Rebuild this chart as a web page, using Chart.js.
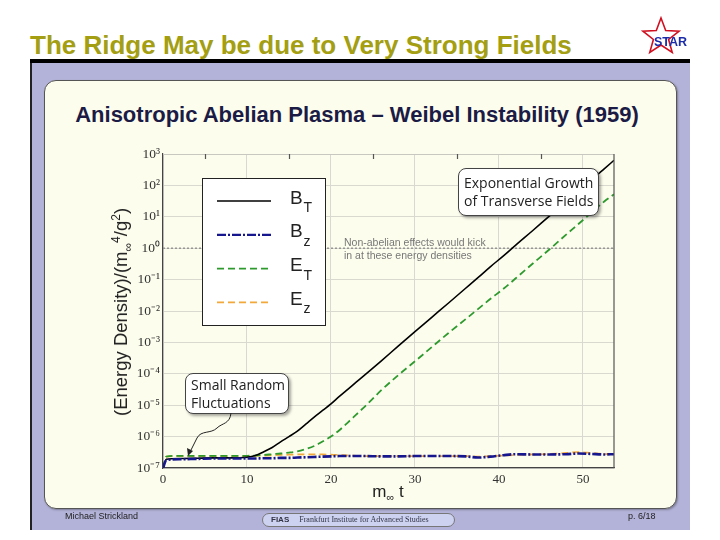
<!DOCTYPE html>
<html>
<head>
<meta charset="utf-8">
<script src="https://cdn.jsdelivr.net/npm/chart.js@4.4.1/dist/chart.umd.min.js"></script>
<style>
body{margin:0;width:720px;height:540px;background:#fff;position:relative;overflow:hidden;font-family:"Liberation Sans",Arial,sans-serif}
#slideTitle{position:absolute;left:30px;top:30px;font-size:26px;line-height:30px;font-weight:bold;color:#a39e12;white-space:nowrap}
#rule{position:absolute;left:30px;top:59px;width:660px;height:4px;background:#000}
#panel{position:absolute;left:30px;top:63px;width:658px;height:467px;background:#b3b3d9;border-left:2px solid #222}
#card{position:absolute;left:44px;top:80px;width:631px;height:427px;background:#fdfdee;border:1px solid #555;border-radius:12px;box-shadow:1px 1px 2px rgba(0,0,0,.3)}
#chartTitle{position:absolute;left:0;width:714px;top:102px;text-align:center;font-size:22px;line-height:26px;font-weight:bold;color:#1b1b45;white-space:nowrap}
#plot{position:absolute;left:0;top:0}
#yTitle{position:absolute;left:121px;top:312px;transform:translate(-50%,-50%) rotate(-90deg);font-size:18.5px;color:#222;white-space:nowrap}
#xTitle{position:absolute;left:388px;top:492px;transform:translate(-50%,-50%);font-size:17px;color:#222;white-space:nowrap}
sub,sup{font-size:65%;line-height:0}
#note{position:absolute;left:344px;top:236px;font-size:10.5px;line-height:13px;color:#777;white-space:nowrap}
.callout{position:absolute;background:#fff;border:1px solid #444;border-radius:8px;box-shadow:2px 2px 3px rgba(0,0,0,.35);font-family:"Open Sans",sans-serif;font-size:14px;line-height:18px;color:#222;padding:2px 0 0 5px;box-sizing:border-box;white-space:nowrap}
#overlay{position:absolute;left:0;top:0}
.foot{position:absolute;top:511px;font-size:9px;color:#222;white-space:nowrap}
#fias{position:absolute;left:262px;top:513px;width:193px;height:14px;box-sizing:border-box;border:1px solid #777;border-radius:8px;background:#ccd2f0;font-size:8px;line-height:12px;color:#334;white-space:nowrap;padding-left:8px}
#fias b{font-family:"Liberation Sans",sans-serif;margin-right:10px}
#fias span{font-family:"Liberation Serif",serif}
</style>
</head>
<body>
<div id="slideTitle">The Ridge May be due to Very Strong Fields</div>
<div id="rule"></div>
<div id="panel"></div>
<div id="card"></div>
<div id="chartTitle">Anisotropic Abelian Plasma – Weibel Instability (1959)</div>
<canvas id="plot" width="720" height="540"></canvas>
<div id="yTitle">(Energy Density)/(m<sub>∞</sub><sup>4</sup>/g<sup>2</sup>)</div>
<div id="xTitle">m<sub>∞</sub> t</div>
<div id="note">Non-abelian effects would kick<br>in at these energy densities</div>
<div class="callout" style="left:185px;top:373px;width:104px;height:41px">Small Random<br>Fluctuations</div>
<div class="callout" style="left:458px;top:168px;width:141px;height:48px;padding-top:5px">Exponential Growth<br>of Transverse Fields</div>
<svg id="overlay" width="720" height="540">
  <path d="M231,413 C230,424 222,423 217,428 C211,434 201,430 197,438 L191,450" fill="none" stroke="#222" stroke-width="1"/>
  <polygon points="188,456 187,448 193,451" fill="#222"/>
  <polygon points="661,18 665.7,30.5 679.1,31.1 668.6,39.5 672.2,52.4 661,45 649.8,52.4 653.4,39.5 642.9,31.1 656.3,30.5" fill="#fff" stroke="#d01020" stroke-width="1.6"/>
  <text x="654" y="46" font-family="Liberation Sans" font-weight="bold" font-size="12.5" fill="#1c2ca8">STAR</text>
</svg>
<div class="foot" style="left:65px">Michael Strickland</div>
<div id="fias"><b>FIAS</b><span>Frankfurt Institute for Advanced Studies</span></div>
<div class="foot" style="left:628px">p. 6/18</div>

<script>
// time axis (m_inf t) and field energy densities
const tValues = [0, 0.4, 2, 4, 6, 8, 10, 11, 12, 13, 14, 15, 16, 17, 18, 19, 20, 21, 22, 23, 24,
                 26, 28, 30, 32, 34, 36, 37.5, 39, 40.5, 42, 44, 46, 48, 49.5, 51, 52.5, 53.7];
const bT = [1.0e-7, 1.9e-7, 2.0e-7, 2.05e-7, 2.1e-7, 2.1e-7, 2.2e-7, 2.5e-7, 3.3e-7, 4.5e-7, 6.8e-7, 1.0e-6, 1.5e-6, 2.5e-6, 4.2e-6, 6.8e-6, 1.1e-5, 1.9e-5, 3.2e-5, 5.4e-5, 9.1e-5,
            2.6e-4, 7.6e-4, 2.2e-3, 6.3e-3, 1.8e-2, 5.2e-2, 0.115, 0.26, 0.56, 1.26, 3.6, 10.5, 30, 68, 148, 330, 630];
const bZ = [1.0e-7, 1.8e-7, 1.9e-7, 1.95e-7, 2.0e-7, 2.0e-7, 2.0e-7, 2.0e-7, 2.05e-7, 2.05e-7, 2.1e-7, 2.1e-7, 2.15e-7, 2.2e-7, 2.25e-7, 2.3e-7, 2.35e-7, 2.4e-7, 2.4e-7, 2.4e-7, 2.4e-7,
            2.35e-7, 2.35e-7, 2.4e-7, 2.4e-7, 2.4e-7, 2.35e-7, 2.15e-7, 2.3e-7, 2.55e-7, 2.75e-7, 2.7e-7, 2.7e-7, 2.75e-7, 2.9e-7, 2.8e-7, 2.7e-7, 2.75e-7];
const eT = [1.0e-7, 2.3e-7, 2.45e-7, 2.45e-7, 2.45e-7, 2.45e-7, 2.45e-7, 2.5e-7, 2.6e-7, 2.75e-7, 2.9e-7, 3.1e-7, 3.4e-7, 4.0e-7, 5.0e-7, 7.0e-7, 1.0e-6, 1.6e-6, 2.8e-6, 5.0e-6, 8.9e-6,
            3.0e-5, 9.0e-5, 2.5e-4, 7.1e-4, 2.0e-3, 5.4e-3, 1.15e-2, 2.45e-2, 5.0e-2, 0.11, 0.32, 0.91, 2.7, 6.0, 13.5, 30, 52];
const eZ = [1.0e-7, 2.3e-7, 2.4e-7, 2.4e-7, 2.4e-7, 2.4e-7, 2.4e-7, 2.45e-7, 2.5e-7, 2.55e-7, 2.6e-7, 2.65e-7, 2.7e-7, 2.7e-7, 2.7e-7, 2.7e-7, 2.65e-7, 2.6e-7, 2.5e-7, 2.45e-7, 2.4e-7,
            2.4e-7, 2.4e-7, 2.4e-7, 2.4e-7, 2.4e-7, 2.4e-7, 2.3e-7, 2.4e-7, 2.5e-7, 2.6e-7, 2.7e-7, 2.8e-7, 3.0e-7, 3.2e-7, 3.0e-7, 2.8e-7, 2.75e-7];
const seriesNames = ['B_T', 'B_z', 'E_T', 'E_z'];
const xTickValues = [0, 10, 20, 30, 40, 50];
const topTickValues = [5, 15, 25, 35, 45];
const yTickValues = [1e-7, 1e-6, 1e-5, 1e-4, 1e-3, 1e-2, 1e-1, 1, 1e1, 1e2, 1e3];
const thresholdLevel = 1;   // dotted "non-abelian" line

const superDigits = {'-':'⁻','0':'⁰','1':'¹','2':'²','3':'³','4':'⁴','5':'⁵','6':'⁶','7':'⁷','8':'⁸','9':'⁹'}
function powLabel(v){
    const e = Math.round(Math.log10(v))
    return '10' + String(e).split('').map(c => superDigits[c]).join('')
}
function toPoints(vals){
    return tValues.map((t, i) => ({x: t, y: vals[i]}))
}

const framePlugin = {
    id: 'frame',
    beforeDatasetsDraw(chart){
        const {ctx, chartArea: a, scales: {x, y}} = chart
        ctx.save()
        // dotted threshold line
        const yl = y.getPixelForValue(thresholdLevel)
        ctx.strokeStyle = '#8a8a8a'
        ctx.lineWidth = 1.3
        ctx.setLineDash([2, 2])
        ctx.beginPath(); ctx.moveTo(a.left, yl); ctx.lineTo(a.right, yl); ctx.stroke()
        ctx.restore()
    },
    afterDatasetsDraw(chart){
        const {ctx, chartArea: a, scales: {x}} = chart
        ctx.save()
        // top edge light, right edge dark
        ctx.strokeStyle = '#c8c8c0'; ctx.lineWidth = 1
        ctx.beginPath(); ctx.moveTo(a.left, a.top + 0.5); ctx.lineTo(a.right, a.top + 0.5); ctx.stroke()
        ctx.strokeStyle = '#555'; ctx.lineWidth = 1.2
        ctx.beginPath(); ctx.moveTo(a.right, a.top); ctx.lineTo(a.right, a.bottom); ctx.stroke()
        topTickValues.forEach(v => {
            const px = Math.round(x.getPixelForValue(v)) + 0.5
            ctx.beginPath(); ctx.moveTo(px, a.top); ctx.lineTo(px, a.top + 5); ctx.stroke()
        })

        // legend box
        ctx.fillStyle = '#fff'; ctx.strokeStyle = '#222'; ctx.lineWidth = 1
        ctx.fillRect(202.5, 178.5, 123, 147)
        ctx.strokeRect(202.5, 178.5, 123, 147)
        chart.data.datasets.forEach((ds, i) => {
            const ly = 201 + i * 33.8
            ctx.strokeStyle = ds.borderColor
            ctx.lineWidth = Math.min(ds.borderWidth, 2.2)
            ctx.setLineDash(ds.borderDash || [])
            ctx.beginPath(); ctx.moveTo(217, ly); ctx.lineTo(271, ly); ctx.stroke()
            ctx.setLineDash([])
            const [main, sub] = ds.label.split('_')
            ctx.fillStyle = '#222'
            ctx.textBaseline = 'alphabetic'
            ctx.font = '19px "Liberation Sans", Arial'
            ctx.fillText(main, 290, ly + 2.5)
            ctx.font = '14px "Liberation Sans", Arial'
            ctx.fillText(sub, 303.5, ly + 11)
        })
        ctx.restore()
    }
}

const gridColor = '#d9d9d0'
new Chart(document.getElementById('plot'), {
    type: 'line',
    data: {
        datasets: [
            {label: seriesNames[0], data: toPoints(bT), borderColor: '#000', borderWidth: 1.6, order: 1},
            {label: seriesNames[1], data: toPoints(bZ), borderColor: '#16168e', borderWidth: 2.6, borderDash: [9, 2, 2, 2], order: 0},
            {label: seriesNames[2], data: toPoints(eT), borderColor: '#2e9a2e', borderWidth: 1.8, borderDash: [7, 4], order: 2},
            {label: seriesNames[3], data: toPoints(eZ), borderColor: '#f2a93b', borderWidth: 1.8, borderDash: [7, 4], order: 3}
        ]
    },
    options: {
        responsive: false,
        animation: false,
        elements: {
            point: {radius: 0},
            line: {cubicInterpolationMode: 'monotone', fill: false}
        },
        layout: {padding: {left: 103, right: 106, top: 154, bottom: 32}},
        plugins: {legend: {display: false}, tooltip: {enabled: false}},
        scales: {
            x: {
                type: 'linear', min: 0, max: 53.7,
                afterBuildTicks: s => { s.ticks = xTickValues.map(v => ({value: v})) },
                afterFit: s => { s.height = 40 },
                grid: {color: gridColor, drawTicks: false},
                border: {color: '#444', width: 1.2},
                ticks: {padding: 4, color: '#333', font: {family: 'Liberation Serif', size: 13}}
            },
            y: {
                type: 'logarithmic', min: 1e-7, max: 1e3,
                afterBuildTicks: s => { s.ticks = yTickValues.map(v => ({value: v})) },
                afterFit: s => { s.width = 60 },
                grid: {color: gridColor, drawTicks: false},
                border: {color: '#444', width: 1.2},
                ticks: {padding: 3, color: '#333', font: {family: 'Liberation Serif', size: 13.5}, callback: v => powLabel(v)}
            }
        }
    },
    plugins: [framePlugin]
})
</script>
</body>
</html>
